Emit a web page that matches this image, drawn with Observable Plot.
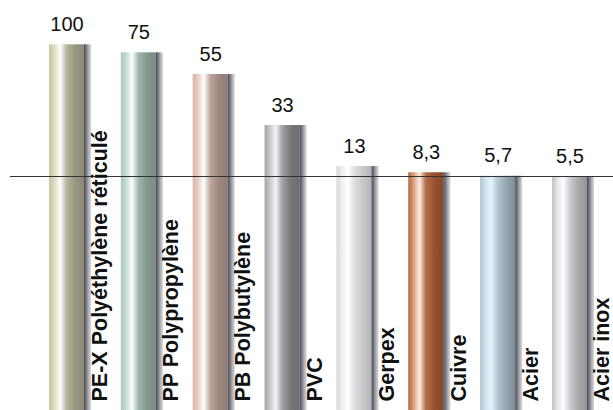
<!DOCTYPE html>
<html>
<head>
<meta charset="utf-8">
<script src="https://cdn.jsdelivr.net/npm/d3@7"></script>
<script src="https://cdn.jsdelivr.net/npm/@observablehq/plot@0.6"></script>
<style>
  html, body { margin: 0; padding: 0; background: #fff; }
  svg { display: block; }
</style>
</head>
<body>
<div id="chart"></div>
<script>
// ---- data ----
const materials = ["PE-X Polyéthylène réticulé", "PP Polypropylène", "PB Polybutylène", "PVC", "Gerpex", "Cuivre", "Acier", "Acier inox"];
const values = [100, 75, 55, 33, 13, 8.3, 5.7, 5.5];
const valueLabels = ["100", "75", "55", "33", "13", "8,3", "5,7", "5,5"];
const referenceLine = 5.5;

// ---- styles (cylinder gradients) ----
const gradients = [
  ["#c9c6a2", "#dcdac0", "#ffffff", "#b8b59e", "#9a977f", "#8c8a78"],
  ["#a9c6b8", "#c4dccf", "#ffffff", "#9fb8ac", "#83998f", "#778c83"],
  ["#d9b3a4", "#e8cdc2", "#ffffff", "#bea79e", "#9d8880", "#917c75"],
  ["#a3a4a8", "#c6c7ca", "#f4f4f4", "#a2a3a6", "#77787c", "#6c6d71"],
  ["#d6d7d9", "#eeeeef", "#ffffff", "#e2e2e4", "#c8c8ca", "#b5b6b9"],
  ["#b0643a", "#dba07e", "#fbeee6", "#b76e47", "#95522f", "#8a4828"],
  ["#a9c2cf", "#cfe3ee", "#e6f3f9", "#b5c8d2", "#93a5af", "#7d8d97"],
  ["#c1c2c5", "#e4e4e6", "#ffffff", "#cfd0d2", "#a8a9ac", "#949599"]
];
const gradientOffsets = [0, 0.15, 0.32, 0.5, 0.75, 1];
const stripStops = [["0", "#4a4a52"], ["0.3", "#75757d"], ["0.7", "#b4b4bc"], ["1", "#d6d6dc"]];

const data = materials.map((m, i) => ({material: m, value: values[i], label: valueLabels[i], grad: `url(#cyl${i})`}));

const chart = Plot.plot({
  width: 613,
  height: 410,
  marginLeft: 10,
  marginRight: 0,
  marginTop: 0,
  marginBottom: 0,
  style: {fontFamily: "'Liberation Sans', Arial, Helvetica, sans-serif", background: "#fff"},
  x: {type: "band", domain: materials, range: [49, 594], paddingInner: 0.4155, paddingOuter: 0, round: false, axis: null},
  y: {type: "linear", domain: [0, 5.5, 13, 33, 55, 75, 100], range: [410, 176, 166, 125, 74, 52.3, 44.3], axis: null},
  color: {type: "identity"},
  marks: [
    Plot.barY(data, {x: "material", y: "value", fill: "grad", insetRight: 7}),
    Plot.barY(data, {x: "material", y: "value", fill: "url(#strip)", insetLeft: 35}),
    Plot.ruleY([referenceLine], {stroke: "#333", strokeWidth: 1.2}),
    Plot.text(data, {x: "material", y: "value", text: "label", dx: -3.5, dy: -14, lineAnchor: "bottom", fontSize: 20, fill: "#111"}),
    Plot.text(data, {x: "material", text: "material", frameAnchor: "bottom", rotate: -90, textAnchor: "start", lineAnchor: "bottom", dx: 36, dy: -9, fontSize: 21.5, fontWeight: "bold", fill: "#111"})
  ]
});

// add gradient definitions
const svg = d3.select(chart);
const defs = svg.insert("defs", ":first-child");
gradients.forEach((cols, i) => {
  const g = defs.append("linearGradient").attr("id", `cyl${i}`).attr("x1", "0").attr("x2", "1").attr("y1", "0").attr("y2", "0");
  cols.forEach((c, j) => g.append("stop").attr("offset", gradientOffsets[j]).attr("stop-color", c));
});
const sg = defs.append("linearGradient").attr("id", "strip").attr("x1", "0").attr("x2", "1").attr("y1", "0").attr("y2", "0");
stripStops.forEach(([o, c]) => sg.append("stop").attr("offset", o).attr("stop-color", c));

document.getElementById("chart").appendChild(chart);
</script>
</body>
</html>
